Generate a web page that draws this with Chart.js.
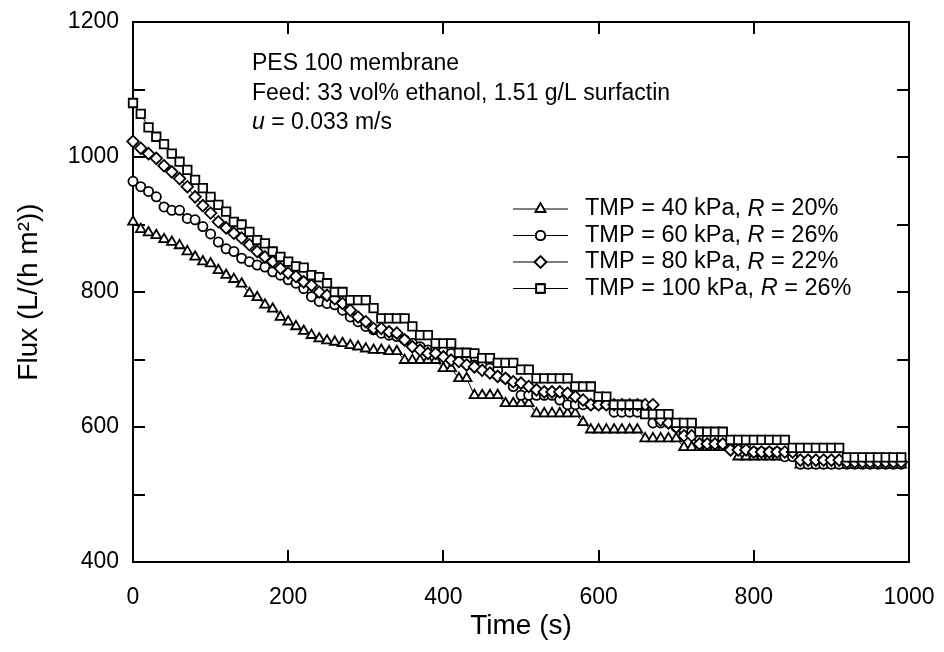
<!DOCTYPE html>
<html><head><meta charset="utf-8">
<script src="https://cdn.jsdelivr.net/npm/chart.js@4/dist/chart.umd.min.js"></script>
<style>html,body{margin:0;padding:0;background:#fff}#wrap{width:944px;height:652px;position:relative}</style>
</head><body><div id="wrap"><canvas id="c" width="944" height="652"></canvas></div>
<script>
const FONT = "'Liberation Sans', Arial, Helvetica, sans-serif";
const times = [0,10,20,30,40,50,60,70,80,90,100,110,120,130,140,150,160,170,180,190,200,210,220,230,240,250,260,270,280,290,300,310,320,330,340,350,360,370,380,390,400,410,420,430,440,450,460,470,480,490,500,510,520,530,540,550,560,570,580,590,600,610,620,630,640,650,660,670,680,690,700,710,720,730,740,750,760,770,780,790,800,810,820,830,840,850,860,870,880,890,900,910,920,930,940,950,960,970,980,990];
const flux40 = [904,893,888,884,878,874,869,860,852,845, 842,832,825,819,812,798,792,781,775,763, 756,749,742,736,731,728,726,724,721,719, 716,714,714,712,712,699,699,699,699,699, 687,687,672,672,647,647,647,647,635,635, 635,635,620,620,620,620,620,620,607,596, 596,596,596,596,596,596,583,583,583,583, 583,570,570,570,570,570,570,570,556,556, 556,556,556,556,556,556,544,544,544,544, 544,544,544,544,544,544,544,544,544,544];
const flux60 = [964,956,949,941,926,921,921,909,907,897, 886,874,864,860,850,845,840,837,830,825, 818,813,805,793,786,783,781,773,763,756, 749,744,739,736,734,729,724,719,714,714, 712,709,702,699,692,690,687,684,672,660, 647,647,647,647,647,640,633,633,633,633, 633,633,622,622,622,622,622,606,606,606, 600,593,593,583,583,583,583,575,575,575, 563,563,563,563,556,556,545,545,545,545, 545,545,545,545,545,545,545,545,545,545];
const flux80 = [1023,1013,1005,998,987,978,968,956,941,928, 917,904,895,887,880,870,860,852,845,835, 828,823,815,810,800,795,790,783,773,763, 756,746,746,741,739,729,719,714,709,709, 704,699,697,692,689,684,680,675,672,667, 665,660,655,652,652,652,650,645,640,633, 633,633,633,633,633,633,633,633,610,606, 600,587,587,575,575,575,575,566,566,566, 563,563,563,563,563,563,551,551,551,551, 551,551,548,548,548,548,548,548,548,548];
const flux100 = [1080,1064,1044,1030,1019,1005,993,981,966,954, 941,929,919,904,900,889,877,872,860,852, 845,838,836,825,822,813,800,800,788,788, 788,776,761,761,761,761,749,736,736,724, 724,724,710,710,709,702,702,695,695,695, 685,685,672,672,672,672,672,660,660,660, 645,645,633,633,633,633,619,619,619,619, 606,606,606,593,593,593,593,581,581,581, 581,581,581,581,581,569,569,569,569,569, 569,569,555,555,555,555,555,555,555,555];
const seriesLabels = [["TMP = 40 kPa, ","R"," = 20%"],["TMP = 60 kPa, ","R"," = 26%"],["TMP = 80 kPa, ","R"," = 22%"],["TMP = 100 kPa, ","R"," = 26%"]];
const xTicks = [0,200,400,600,800,1000];
const yTicks = [400,600,800,1000,1200];
const noteLines = [[["PES 100 membrane",false]],[["Feed: 33 vol% ethanol, 1.51 g/L surfactin",false]],[["u",true],[" = 0.033 m/s",false]]];

const styles = [
  {pointStyle:'triangle', radius:5.6},
  {pointStyle:'circle', radius:4.6},
  {pointStyle:'rectRot', radius:5.8},
  {pointStyle:'rect', radius:6.0}
];
const allFlux = [flux40, flux60, flux80, flux100];
const datasets = allFlux.map((arr, i) => ({
  label: seriesLabels[i].join(''),
  data: times.map((t, k) => ({x: t, y: arr[k]})),
  showLine: true,
  borderColor: '#000',
  borderWidth: 1,
  pointStyle: styles[i].pointStyle,
  pointRadius: styles[i].radius,
  pointBackgroundColor: '#fff',
  pointBorderColor: '#000',
  pointBorderWidth: 1.8,
  order: 3 - i,
  clip: false
}));

const framePlugin = {
  id: 'frame',
  beforeDatasetsDraw(chart) {
    const ctx = chart.ctx;
    const {left, right, top, bottom} = chart.chartArea;
    const xs = chart.scales.x, ys = chart.scales.y;
    ctx.save();
    ctx.strokeStyle = '#000';
    ctx.lineWidth = 2;
    ctx.strokeRect(left, top, right - left, bottom - top);
    const L = 12;
    ctx.beginPath();
    for (let v = 500; v < 1200; v += 100) {
      const y = Math.round(ys.getPixelForValue(v));
      ctx.moveTo(left, y); ctx.lineTo(left + L, y);
      ctx.moveTo(right, y); ctx.lineTo(right - L, y);
    }
    xTicks.slice(1, -1).forEach(v => {
      const x = Math.round(xs.getPixelForValue(v));
      ctx.moveTo(x, bottom); ctx.lineTo(x, bottom - L);
      ctx.moveTo(x, top); ctx.lineTo(x, top + L);
    });
    ctx.stroke();
    ctx.restore();
  },
  afterDatasetsDraw(chart) {
    const ctx = chart.ctx;
    ctx.save();
    ctx.fillStyle = '#000';
    ctx.textBaseline = 'middle';
    const nx = 252, ny = [64, 93.5, 123];
    noteLines.forEach((parts, r) => {
      let x = nx;
      parts.forEach(([txt, it]) => {
        ctx.font = (it ? 'italic ' : '') + '23px ' + FONT;
        ctx.fillText(txt, x, ny[r]);
        x += ctx.measureText(txt).width;
      });
    });
    const ly = [209, 235.5, 262, 288.5];
    seriesLabels.forEach((parts, i) => {
      const y = ly[i];
      ctx.strokeStyle = '#000';
      ctx.lineWidth = 1.2;
      ctx.beginPath(); ctx.moveTo(513, y); ctx.lineTo(568, y); ctx.stroke();
      ctx.lineWidth = 1.8;
      ctx.fillStyle = '#fff';
      Chart.helpers.drawPoint(ctx, {pointStyle: styles[i].pointStyle, radius: styles[i].radius, borderWidth: 1.8, rotation: 0}, 540.5, y);
      ctx.fill(); ctx.stroke();
      ctx.fillStyle = '#000';
      let x = 585;
      parts.forEach((txt, k) => {
        ctx.font = (k === 1 ? 'italic ' : '') + '23.5px ' + FONT;
        ctx.fillText(txt, x, y);
        x += ctx.measureText(txt).width;
      });
    });
    ctx.restore();
  }
};

new Chart(document.getElementById('c'), {
  type: 'scatter',
  data: { datasets },
  options: {
    responsive: false,
    animation: false,
    devicePixelRatio: 1,
    layout: { padding: { left: 0, right: 35, top: 22, bottom: 0 } },
    plugins: { legend: { display: false }, tooltip: { enabled: false } },
    scales: {
      x: {
        type: 'linear', min: 0, max: 1000,
        afterBuildTicks: s => { s.ticks = xTicks.map(v => ({value: v})); },
        ticks: { color: '#000', font: { family: FONT, size: 23 }, padding: 22, maxRotation: 0, autoSkip: false, callback: v => String(v) },
        grid: { display: false, drawTicks: false },
        border: { display: false },
        title: { display: true, text: 'Time (s)', color: '#000', font: { family: FONT, size: 28 }, padding: { top: 0, bottom: 9 } },
        afterFit: s => { s.height = 90; s.paddingLeft = 0; s.paddingRight = 0; }
      },
      y: {
        min: 400, max: 1200,
        afterBuildTicks: s => { s.ticks = yTicks.map(v => ({value: v})); },
        ticks: { color: '#000', font: { family: FONT, size: 23 }, padding: 14, autoSkip: false, callback: v => String(v) },
        grid: { display: false, drawTicks: false },
        border: { display: false },
        title: { display: true, text: 'Flux (L/(h m²))', color: '#000', font: { family: FONT, size: 28 }, padding: { top: 12, bottom: 0 } },
        afterFit: s => { s.width = 133; s.paddingTop = 0; s.paddingBottom = 0; }
      }
    }
  },
  plugins: [framePlugin]
});
</script>
</body></html>
